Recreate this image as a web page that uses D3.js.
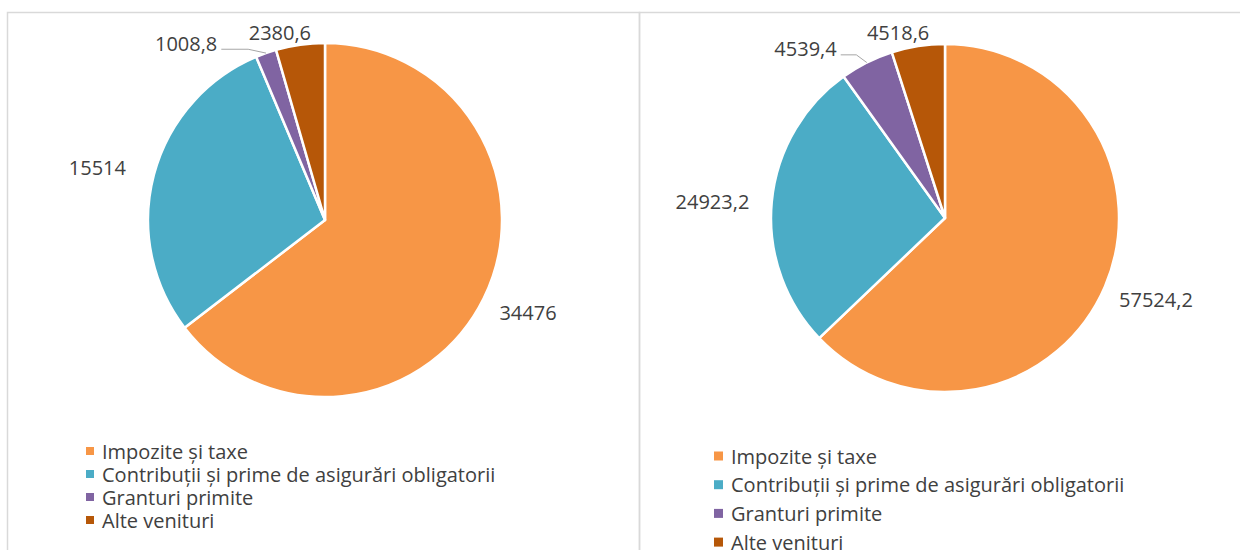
<!DOCTYPE html>
<html>
<head>
<meta charset="utf-8">
<script src="https://cdn.jsdelivr.net/npm/d3@7"></script>
<style>
  html, body { margin: 0; padding: 0; background: #fff; }
  svg { display: block; font-family: "Open Sans", Lato, sans-serif; }
  .label { fill: #404040; font-size: 20px; }
  .legend-text { fill: #404040; font-size: 20px; }
</style>
</head>
<body>
<div id="chart"></div>
<script>
// Revenue structure, two periods
const categories = [
  "Impozite și taxe",
  "Contribuții și prime de asigurări obligatorii",
  "Granturi primite",
  "Alte venituri"
];
const valuesLeft = [34476, 15514, 1008.8, 2380.6];
const valuesRight = [57524.2, 24923.2, 4539.4, 4518.6];
const colors = ["#F79646", "#4BACC6", "#8064A2", "#B65708"];

const width = 1240, height = 550;
const fmt = d3.formatLocale({ decimal: ",", thousands: "", grouping: [3] }).format(".1~f");

const svg = d3.select("#chart").append("svg")
  .attr("width", width).attr("height", height);

// panel frames
const frame = svg.append("g").attr("fill", "none").attr("stroke", "#d9d9d9").attr("stroke-width", 1.5);
frame.append("rect").attr("x", 7.5).attr("y", 12.5).attr("width", 632).attr("height", 600);
frame.append("rect").attr("x", 639.5).attr("y", 12.5).attr("width", 700).attr("height", 600);

// label placement: radius factor and angle shift (deg) per slice, leader for small ones
const panels = [
  {
    values: valuesLeft, cx: 325, cy: 220, r: 177,
    labelR: [1.26, 1.32, 1.27, 1.09], labelShift: [-1.8, -1.8, -18.7, -5.5], leader: [false, false, true, false],
    legend: { x: 86, y: 451, step: 23, box: 8, textX: 102 }
  },
  {
    values: valuesRight, cx: 945, cy: 218, r: 174,
    labelR: [1.30, 1.34, 1.26, 1.10], labelShift: [-2, -1.3, -12.8, -5.3], leader: [false, false, true, false],
    legend: { x: 714, y: 456, step: 28.7, box: 9, textX: 731 }
  }
];

const pie = d3.pie().sort(null).value((d) => d.value);

panels.forEach((p) => {
  const data = categories.map((c, i) => ({ category: c, value: p.values[i], i }));
  const arcs = pie(data);
  const arc = d3.arc().innerRadius(0).outerRadius(p.r);

  const g = svg.append("g").attr("transform", `translate(${p.cx},${p.cy})`);

  g.selectAll("path.slice")
    .data(arcs)
    .join("path")
    .attr("class", "slice")
    .attr("d", arc)
    .attr("fill", (d) => colors[d.data.i])
    .attr("stroke", "#fff")
    .attr("stroke-width", 2.5)
    .attr("stroke-linejoin", "round");

  arcs.forEach((d) => {
    const i = d.data.i;
    const mid = (d.startAngle + d.endAngle) / 2;
    const la = mid + (p.labelShift[i] * Math.PI) / 180;
    const [lx, ly] = d3.pointRadial(la, p.r * p.labelR[i]);

    const t = g.append("text")
      .attr("class", "label")
      .attr("x", lx)
      .attr("y", ly)
      .attr("text-anchor", "middle")
      .attr("dominant-baseline", "central")
      .text(fmt(d.value));

    if (p.leader[i]) {
      const w = t.node().getComputedTextLength();
      const [ax, ay] = d3.pointRadial(mid, p.r);
      const sx = lx + w / 2 + 4, sy = ly + 6;
      g.insert("path", "text")
        .attr("d", `M${sx},${sy}L${sx + (ax - sx) * 0.6},${sy}L${ax},${ay}`)
        .attr("fill", "none")
        .attr("stroke", "#a6a6a6")
        .attr("stroke-width", 1);
    }
  });

  // legend
  const lg = svg.append("g");
  const rows = lg.selectAll("g").data(categories).join("g")
    .attr("transform", (d, i) => `translate(0,${p.legend.y + i * p.legend.step})`);
  rows.append("rect")
    .attr("x", p.legend.x)
    .attr("y", -p.legend.box / 2)
    .attr("width", p.legend.box)
    .attr("height", p.legend.box)
    .attr("fill", (d, i) => colors[i]);
  rows.append("text")
    .attr("class", "legend-text")
    .attr("x", p.legend.textX)
    .attr("dominant-baseline", "central")
    .text((d) => d);
});
</script>
</body>
</html>
